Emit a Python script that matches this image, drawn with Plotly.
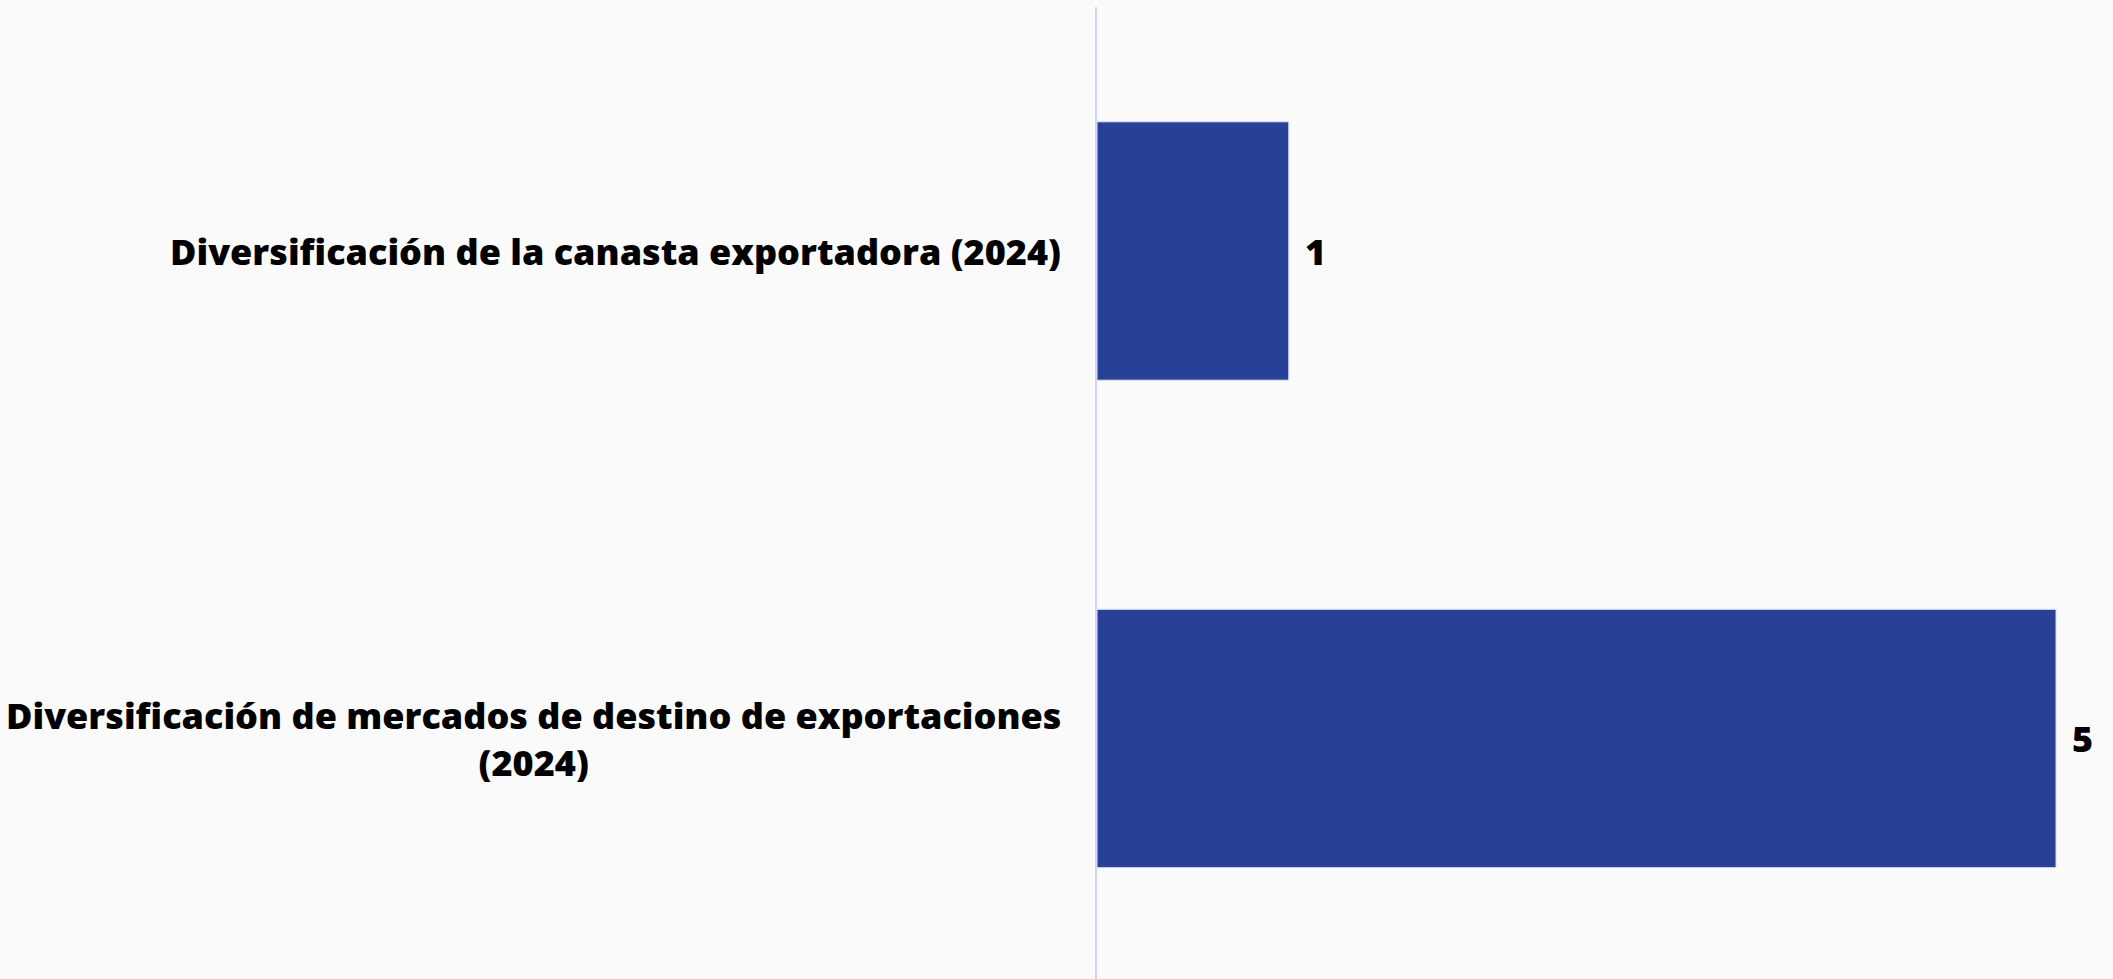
import plotly.graph_objects as go

categories = [
    "Diversificación de la canasta exportadora (2024)",
    "Diversificación de mercados de destino de exportaciones<br>(2024)",
]
values = [1, 5]

BAR_COLOR = "#284095"
BG = "#fafafa"
FONT = "Open Sans"
FSIZE = 36

fig = go.Figure()
fig.add_trace(go.Bar(
    y=categories,
    x=values,
    orientation="h",
    marker=dict(color=BAR_COLOR, line=dict(color="#dfe3f5", width=1)),
    width=0.53,
    hoverinfo="skip",
))

# value labels
for c, v in zip(categories, values):
    fig.add_annotation(
        x=v, y=c, xref="x", yref="y",
        text=str(v), showarrow=False,
        xanchor="left", yanchor="middle", xshift=14,
        font=dict(family=FONT, size=FSIZE, color="#000000", weight=800),
    )

# category labels (centred multi-line, right-anchored at the axis)
for c in categories:
    fig.add_annotation(
        x=0, y=c, xref="paper", yref="y",
        text=c, showarrow=False, align="center",
        xanchor="right", yanchor="middle", xshift=-34,
        font=dict(family=FONT, size=FSIZE, color="#000000", weight=800),
    )

fig.update_layout(
    width=2113, height=979,
    paper_bgcolor=BG, plot_bgcolor=BG,
    margin=dict(l=1097, r=0, t=7, b=0, autoexpand=False),
    showlegend=False,
    font=dict(family=FONT, size=FSIZE, color="#000000", weight=800),
)
fig.update_xaxes(
    range=[0, 5.297], visible=False, showgrid=False, zeroline=False,
)
fig.update_yaxes(
    type="category", categoryorder="array", categoryarray=categories,
    range=[1.4933, -0.5005],
    showline=True, linecolor="#d4d4fa", linewidth=2,
    showgrid=False, ticks="", showticklabels=False,
)

fig.write_html(
    "out.html",
    config={"displayModeBar": False},
    post_script="document.body.style.margin='0';document.body.style.background='#fafafa';",
)
